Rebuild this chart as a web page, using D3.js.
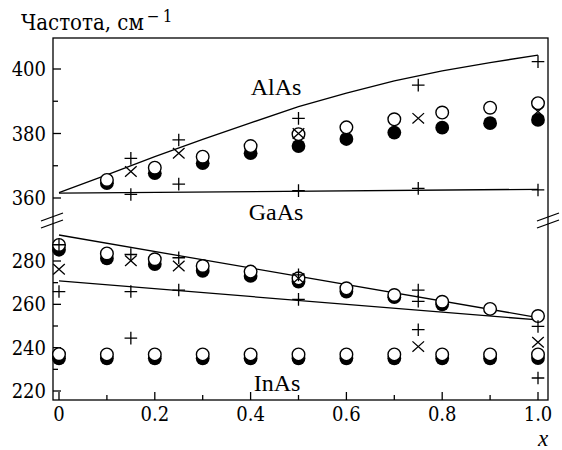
<!DOCTYPE html>
<html><head><meta charset="utf-8">
<script src="https://cdn.jsdelivr.net/npm/d3@7"></script>
<style>
html,body{margin:0;padding:0;background:#fff;}
</style></head>
<body><svg id="chart" width="562" height="450"></svg>
<script>
// ---- data ----
const xTicksMajor = [0, 0.2, 0.4, 0.6, 0.8, 1.0];
const xTickLabels = ["0", "0.2", "0.4", "0.6", "0.8", "1.0"];
const xTicksMinor = [0.1, 0.3, 0.5, 0.7, 0.9];
const yTopMajor = [360, 380, 400];
const yTopMinor = [370, 390];
const yBotMajor = [220, 240, 260, 280];
const yBotMinor = [230, 250, 270];

// upper panel (AlAs-like modes)
const alasX = [0.1, 0.2, 0.3, 0.4, 0.5, 0.6, 0.7, 0.8, 0.9, 1.0];
const alasOpen = [365.6, 369.4, 372.8, 376.1, 379.8, 381.9, 384.4, 386.5, 388.0, 389.4];
const alasFilled = [364.6, 367.7, 370.8, 373.9, 376.1, 378.3, 380.3, 381.8, 383.2, 384.2];
const alasCrossX = [0.15, 0.25, 0.5, 0.75, 1.0];
const alasCross = [368.2, 373.9, 380.0, 384.7, 386.8];
const alasPlusX = [0.15, 0.15, 0.25, 0.25, 0.5, 0.5, 0.75, 0.75, 1.0, 1.0];
const alasPlus = [372.3, 361.1, 378.0, 364.3, 384.7, 362.3, 395.0, 363.0, 402.3, 362.5];
const alasLineX = [0, 0.1, 0.2, 0.3, 0.4, 0.5, 0.6, 0.7, 0.8, 0.9, 1.0];
const alasLineUpper = [361.7, 367.2, 372.8, 378.2, 383.3, 388.3, 392.5, 396.3, 399.4, 402.0, 404.3];
const alasLineLowerX = [0, 1.0];
const alasLineLower = [361.5, 362.7];

// lower panel (GaAs-like and InAs-like modes)
const gaasX = [0, 0.1, 0.2, 0.3, 0.4, 0.5, 0.6, 0.7, 0.8, 0.9, 1.0];
const gaasOpen = [287.4, 283.5, 280.8, 277.7, 275.1, 272.0, 267.4, 264.3, 261.2, 257.9, 254.6];
const gaasFilledX = [0, 0.1, 0.2, 0.3, 0.4, 0.5, 0.6, 0.7, 0.8];
const gaasFilled = [285.2, 281.2, 278.6, 275.5, 273.1, 270.5, 265.9, 263.3, 260.0];
const lowCrossX = [0, 0.15, 0.25, 0.5, 0.75, 1.0];
const lowCross = [276.2, 280.1, 277.7, 272.0, 240.5, 242.5];
const lowPlusX = [0, 0, 0.15, 0.15, 0.15, 0.25, 0.25, 0.5, 0.5, 0.75, 0.75, 0.75, 1.0, 1.0];
const lowPlus = [287.5, 265.9, 283.0, 265.9, 244.4, 281.5, 266.6, 273.6, 262.3, 266.6, 261.4, 248.3, 249.8, 226.0];
const gaasLineX = [0, 1.0];
const gaasLineUpper = [292.0, 253.9];
const gaasLineLower = [270.8, 252.8];
const inasX = [0, 0.1, 0.2, 0.3, 0.4, 0.5, 0.6, 0.7, 0.8, 0.9, 1.0];
const inasOpen = [237.0, 236.9, 236.9, 236.9, 236.9, 236.9, 236.9, 236.9, 236.9, 236.9, 236.9];
const inasFilled = [235.1, 235.1, 235.1, 235.1, 235.1, 235.1, 235.1, 235.1, 235.1, 235.1, 235.2];

// ---- layout ----
const SERIF = "Liberation Serif";
const SERIF2 = "DejaVu Serif Condensed";
const svg = d3.select("#chart");
const L = 53, R = 548, T = 38, B = 400, BRK = 217;
const x = d3.scaleLinear().domain([0, 1]).range([59, 538]);
const yT = d3.scaleLinear().domain([360, 400]).range([198, 69]);
const yB = d3.scaleLinear().domain([220, 280]).range([391, 261]);
const sw = 1.3;
const txt = (xx, yy, size, fam) => svg.append("text").attr("x", xx).attr("y", yy)
  .attr("font-family", fam || SERIF).attr("font-size", size).attr("fill", "#000");

// frame
svg.append("rect").attr("x", L).attr("y", T).attr("width", R - L).attr("height", B - T)
  .attr("fill", "none").attr("stroke", "#000").attr("stroke-width", sw);

// y ticks
function yTicks(scale, major, minor) {
  major.forEach(v => svg.append("line").attr("x1", L).attr("x2", L + 8)
    .attr("y1", scale(v)).attr("y2", scale(v)).attr("stroke", "#000").attr("stroke-width", sw));
  minor.forEach(v => svg.append("line").attr("x1", L).attr("x2", L + 5)
    .attr("y1", scale(v)).attr("y2", scale(v)).attr("stroke", "#000").attr("stroke-width", sw));
  major.forEach(v => txt(L - 7, scale(v) + 7, 20, SERIF2).attr("text-anchor", "end").text(String(v)));
}
yTicks(yT, yTopMajor, yTopMinor);
yTicks(yB, yBotMajor, yBotMinor);

// x ticks
xTicksMajor.forEach((v, i) => {
  svg.append("line").attr("x1", x(v)).attr("x2", x(v)).attr("y1", B).attr("y2", B - 8)
    .attr("stroke", "#000").attr("stroke-width", sw);
  txt(x(v), 421, 20, SERIF2).attr("text-anchor", "middle").text(xTickLabels[i]);
});
xTicksMinor.forEach(v => svg.append("line").attr("x1", x(v)).attr("x2", x(v))
  .attr("y1", B).attr("y2", B - 5).attr("stroke", "#000").attr("stroke-width", sw));

// break marks
function brk(cx) {
  [0, 7].forEach(d => svg.append("line")
    .attr("x1", cx - 11).attr("y1", BRK + 4 + d).attr("x2", cx + 11).attr("y2", BRK - 4 + d)
    .attr("stroke", "#000").attr("stroke-width", sw));
}
brk(L - 1);
brk(R);

// titles
const title = txt(21, 29.5, 22, SERIF2);
title.append("tspan").text("Частота, см");
title.append("tspan").attr("dx", 3).attr("dy", -8).attr("font-size", 17).text("−");
title.append("tspan").attr("dx", 3).attr("font-size", 17).text("1");
txt(543, 446, 23).attr("text-anchor", "middle").attr("font-style", "italic").text("x");
txt(276, 95, 24).attr("text-anchor", "middle").text("AlAs");
txt(276, 220, 24).attr("text-anchor", "middle").text("GaAs");
txt(277, 391, 24).attr("text-anchor", "middle").text("InAs");

// lines
const line = (ys) => d3.line().x(d => x(d[0])).y(d => ys(d[1]));
function drawLine(xs, vs, ys) {
  svg.append("path").datum(d3.zip(xs, vs)).attr("d", line(ys))
    .attr("fill", "none").attr("stroke", "#000").attr("stroke-width", sw);
}
drawLine(alasLineX, alasLineUpper, yT);
drawLine(alasLineLowerX, alasLineLower, yT);
drawLine(gaasLineX, gaasLineUpper, yB);
drawLine(gaasLineX, gaasLineLower, yB);

// markers
const r = 6.3;
function filled(xs, vs, ys) {
  svg.append("g").selectAll("circle").data(d3.zip(xs, vs)).join("circle")
    .attr("cx", d => x(d[0])).attr("cy", d => ys(d[1])).attr("r", r + 0.6).attr("fill", "#000");
}
function open(xs, vs, ys) {
  svg.append("g").selectAll("circle").data(d3.zip(xs, vs)).join("circle")
    .attr("cx", d => x(d[0])).attr("cy", d => ys(d[1])).attr("r", r)
    .attr("fill", "#fff").attr("stroke", "#000").attr("stroke-width", 1.4);
}
function cross(xs, vs, ys) {
  const s = 5.8;
  svg.append("g").selectAll("path").data(d3.zip(xs, vs)).join("path")
    .attr("d", d => { const cx = x(d[0]), cy = ys(d[1]);
      return `M${cx - s},${cy - s * 0.9}L${cx + s},${cy + s * 0.9}M${cx - s},${cy + s * 0.9}L${cx + s},${cy - s * 0.9}`; })
    .attr("fill", "none").attr("stroke", "#000").attr("stroke-width", 1.3);
}
function plus(xs, vs, ys) {
  const s = 6.3;
  svg.append("g").selectAll("path").data(d3.zip(xs, vs)).join("path")
    .attr("d", d => { const cx = x(d[0]), cy = ys(d[1]);
      return `M${cx - s},${cy}L${cx + s},${cy}M${cx},${cy - s}L${cx},${cy + s}`; })
    .attr("fill", "none").attr("stroke", "#000").attr("stroke-width", 1.3);
}
filled(alasX, alasFilled, yT);
open(alasX, alasOpen, yT);
cross(alasCrossX, alasCross, yT);
plus(alasPlusX, alasPlus, yT);

filled(gaasFilledX, gaasFilled, yB);
open(gaasX, gaasOpen, yB);
filled(inasX, inasFilled, yB);
open(inasX, inasOpen, yB);
cross(lowCrossX, lowCross, yB);
plus(lowPlusX, lowPlus, yB);
</script></body></html>
